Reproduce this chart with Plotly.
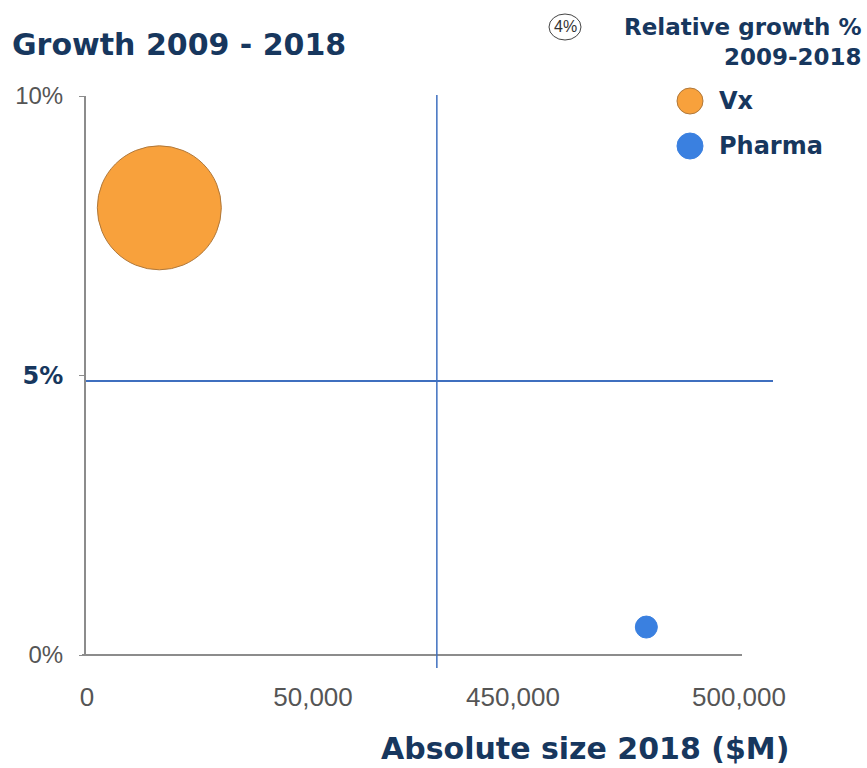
import plotly.graph_objects as go

# Market data: absolute size in 2018 ($M) and growth 2009-2018 (%)
segments = ["Vx", "Pharma"]
size_2018 = [16000, 479500]
growth_pct = [8.0, 0.5]

# Axis ticks
x_tick_values = [0, 50000, 450000, 500000]
x_tick_labels = ["0", "50,000", "450,000", "500,000"]
y_tick_values = [0, 5, 10]

# Styling
NAVY = "#17375E"
GREY_TXT = "#555555"
GREY_AX = "#8C8C8C"
LINE_BLUE = "#3F6FBF"
colors = {"Vx": "#F8A13C", "Pharma": "#3A80E0"}
outline = {"Vx": "#B0783A", "Pharma": "#3A80E0"}
bubble_px = {"Vx": 124, "Pharma": 22}

# Broken x scale: 0-50,000 and 450,000-500,000 with a gap in between
BREAK_LO, BREAK_HI = 50000, 450000
GAP = 44248


def bx(v):
    return v if v <= BREAK_LO else v - BREAK_HI + BREAK_LO + GAP


X_DIVIDER = 77400   # quadrant divider placed inside the gap
Y_DIVIDER = 4.9

fig = go.Figure()
for name, xs, ys in zip(segments, size_2018, growth_pct):
    fig.add_trace(go.Scatter(
        x=[bx(xs)], y=[ys], mode="markers", name=name, showlegend=False,
        marker=dict(size=bubble_px[name], color=colors[name], opacity=1,
                    line=dict(color=outline[name], width=1)),
        hoverinfo="skip",
    ))

W, H = 867, 768
L, R, T, B = 86, 125, 96, 113
pw, ph = W - L - R, H - T - B


def px(xp):
    return (xp - L) / pw


def py(yp):
    return (H - B - yp) / ph


shapes = [
    # x axis line (extends slightly left of the y axis)
    dict(type="line", xref="paper", yref="paper", x0=px(82), x1=1, y0=0, y1=0,
         line=dict(color=GREY_AX, width=2)),
    # quadrant dividers
    dict(type="line", xref="x", yref="paper", x0=X_DIVIDER, x1=X_DIVIDER,
         y0=py(668), y1=py(95), line=dict(color=LINE_BLUE, width=1.5)),
    dict(type="line", xref="paper", yref="y", x0=0, x1=px(773),
         y0=Y_DIVIDER, y1=Y_DIVIDER, line=dict(color=LINE_BLUE, width=2)),
    # bubble-size key
    dict(type="circle", xref="paper", yref="paper", xsizemode="pixel",
         ysizemode="pixel", xanchor=px(565), yanchor=py(27),
         x0=-16, x1=16, y0=-13, y1=13, line=dict(color="#444444", width=1)),
]

annotations = [
    dict(text="<b>Growth 2009 - 2018</b>", xref="paper", yref="paper",
         x=px(10), y=py(45), xanchor="left", yanchor="middle", showarrow=False,
         font=dict(family="DejaVu Sans", size=30, color=NAVY)),
    dict(text="<b>Absolute size 2018 ($M)</b>", xref="paper", yref="paper",
         x=px(791), y=py(748), xanchor="right", yanchor="middle", showarrow=False,
         font=dict(family="DejaVu Sans", size=30, color=NAVY)),
    dict(text="<b>Relative growth %<br>2009-2018</b>", xref="paper", yref="paper",
         x=px(863), y=py(42), xanchor="right", yanchor="middle", align="right",
         showarrow=False, font=dict(family="DejaVu Sans", size=23, color=NAVY)),
    dict(text="4%", xref="paper", yref="paper", x=px(565), y=py(27),
         xanchor="center", yanchor="middle", showarrow=False,
         font=dict(family="Liberation Sans", size=16, color="#333333")),
]

# Legend built from the series list
legend_y = [101, 146]
for name, ly in zip(segments, legend_y):
    shapes.append(dict(type="circle", xref="paper", yref="paper",
                       xsizemode="pixel", ysizemode="pixel",
                       xanchor=px(690), yanchor=py(ly), x0=-13, x1=13, y0=-13, y1=13,
                       fillcolor=colors[name], line=dict(color=outline[name], width=1)))
    annotations.append(dict(text=f"<b>{name}</b>", xref="paper", yref="paper",
                            x=px(717), y=py(ly), xanchor="left", yanchor="middle",
                            showarrow=False,
                            font=dict(family="DejaVu Sans", size=24, color=NAVY)))

y_tick_text = ["0%", f"<span style='color:{NAVY};font-size:24px;font-family:DejaVu Sans'><b>5%</b></span>", "10%"]

fig.update_layout(
    width=W, height=H,
    margin=dict(l=L, r=R, t=T, b=B),
    paper_bgcolor="white", plot_bgcolor="white",
    xaxis=dict(range=[bx(0) - 221, 144911], tickvals=[bx(v) for v in x_tick_values],
               ticktext=x_tick_labels, showgrid=False, zeroline=False,
               showline=False, ticks="", ticklabelstandoff=24,
               tickfont=dict(family="Liberation Sans", size=26, color=GREY_TXT)),
    yaxis=dict(range=[0, 10], tickvals=y_tick_values, ticktext=y_tick_text,
               showgrid=False, zeroline=False, showline=True, linecolor=GREY_AX,
               linewidth=2, ticks="outside", ticklen=5, tickcolor=GREY_AX,
               tickwidth=1, ticklabelstandoff=11,
               tickfont=dict(family="Liberation Sans", size=24, color=GREY_TXT)),
    shapes=shapes, annotations=annotations,
)

fig.write_html("out.html")
